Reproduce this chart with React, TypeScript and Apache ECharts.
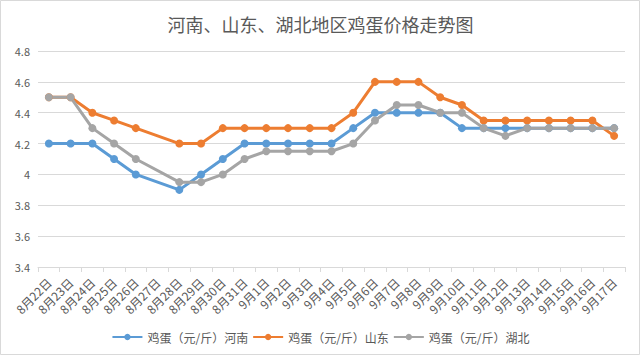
import React, { useEffect, useRef } from "react";
import * as echarts from "echarts";

const categories = [
  "8月22日", "8月23日", "8月24日", "8月25日", "8月26日", "8月27日", "8月28日", "8月29日", "8月30日", "8月31日",
  "9月1日", "9月2日", "9月3日", "9月4日", "9月5日", "9月6日", "9月7日", "9月8日", "9月9日", "9月10日",
  "9月11日", "9月12日", "9月13日", "9月14日", "9月15日", "9月16日", "9月17日",
];

const henan = [4.2, 4.2, 4.2, 4.1, 4.0, null, 3.9, 4.0, 4.1, 4.2, 4.2, 4.2, 4.2, 4.2, 4.3, 4.4, 4.4, 4.4, 4.4, 4.3, 4.3, 4.3, 4.3, 4.3, 4.3, 4.3, 4.3];
const shandong = [4.5, 4.5, 4.4, 4.35, 4.3, null, 4.2, 4.2, 4.3, 4.3, 4.3, 4.3, 4.3, 4.3, 4.4, 4.6, 4.6, 4.6, 4.5, 4.45, 4.35, 4.35, 4.35, 4.35, 4.35, 4.35, 4.25];
const hubei = [4.5, 4.5, 4.3, 4.2, 4.1, null, 3.95, 3.95, 4.0, 4.1, 4.15, 4.15, 4.15, 4.15, 4.2, 4.35, 4.45, 4.45, 4.4, 4.4, 4.3, 4.25, 4.3, 4.3, 4.3, 4.3, 4.3];

const seriesNames = ["鸡蛋（元/斤）河南", "鸡蛋（元/斤）山东", "鸡蛋（元/斤）湖北"];
const colors = ["#5B9BD5", "#ED7D31", "#A5A5A5"];
const titleText = "河南、山东、湖北地区鸡蛋价格走势图";

const FONT = "'Noto Sans CJK SC', 'Noto Sans', sans-serif";

export default function App() {
  const ref = useRef<HTMLDivElement>(null);
  useEffect(() => {
    document.body.style.margin = "0";
    if (!ref.current) return;
    const chart = echarts.init(ref.current, undefined, { renderer: "svg" });
    const data = [henan, shandong, hubei];
    chart.setOption({
      animation: false,
      backgroundColor: "#ffffff",
      textStyle: { fontFamily: FONT },
      title: {
        text: titleText,
        left: "center",
        top: 10,
        textStyle: { fontSize: 18, fontWeight: "normal", color: "#595959", fontFamily: FONT },
      },
      graphic: [
        {
          type: "rect",
          shape: { x: 0.5, y: 0.5, width: 639, height: 354 },
          style: { fill: "none", stroke: "#d9d9d9", lineWidth: 1 },
          silent: true,
        },
      ],
      legend: {
        bottom: 9,
        left: "center",
        itemWidth: 30,
        itemHeight: 8,
        itemGap: 4,
        textStyle: { fontSize: 12, color: "#595959", fontFamily: FONT },
        data: seriesNames,
      },
      grid: { left: 38, right: 16, top: 51, bottom: 90 },
      xAxis: {
        type: "category",
        data: categories,
        boundaryGap: true,
        axisLine: { lineStyle: { color: "#d9d9d9", width: 1 } },
        axisTick: { show: true, length: 5, lineStyle: { color: "#d9d9d9" } },
        axisLabel: { rotate: 45, fontSize: 12, color: "#595959", interval: 0, margin: 13, fontFamily: FONT },
      },
      yAxis: {
        type: "value",
        min: 3.4,
        max: 4.8,
        interval: 0.2,
        axisLine: { show: false },
        axisTick: { show: false },
        splitLine: { lineStyle: { color: "#d9d9d9", width: 1 } },
        axisLabel: {
          fontSize: 11,
          color: "#595959",
          margin: 8,
          fontFamily: FONT,
          formatter: (v: number) => String(+v.toFixed(1)),
        },
      },
      series: seriesNames.map((name, i) => ({
        name,
        type: "line",
        data: data[i],
        connectNulls: true,
        symbol: "circle",
        symbolSize: 8,
        lineStyle: { width: 3, color: colors[i] },
        itemStyle: { color: colors[i] },
        emphasis: { disabled: true },
      })),
    });
    return () => chart.dispose();
  }, []);
  return <div ref={ref} style={{ width: 641, height: 357 }} />;
}
